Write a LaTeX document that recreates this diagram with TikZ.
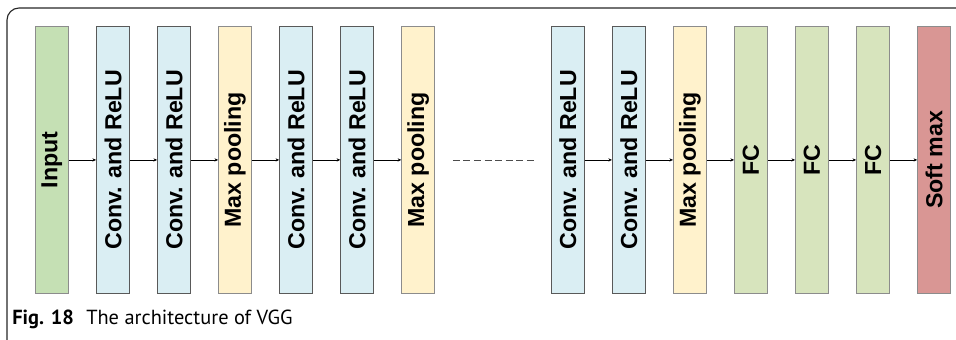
\documentclass[tikz,border=0pt]{standalone}
\usepackage{fontspec}
\setsansfont{Liberation Sans}
\newfontfamily\capfont{PT Sans}
\usepackage{xcolor}
\usepackage{graphicx}
\usepackage{tikz}
\usetikzlibrary{arrows.meta, positioning}
\definecolor{inputc}{HTML}{C5E0B4}
\definecolor{convc}{HTML}{DAEEF3}
\definecolor{poolc}{HTML}{FFF2CC}
\definecolor{fcc}{HTML}{D7E4BD}
\definecolor{softc}{HTML}{D99694}
\newcommand{\vlabel}[1]{\rotatebox{90}{#1}}

\begin{document}
\begin{tikzpicture}[
    node distance=0.68cm,
    block/.style={draw=black!45, line width=0.6pt, minimum width=0.825cm, minimum height=6.675cm,
                  inner sep=0pt, font=\sffamily\bfseries\fontsize{16.5}{18}\selectfont},
    conv/.style={block, fill=convc, draw=black!65},
    pool/.style={block, fill=poolc},
    fc/.style={block, fill=fcc},
    arrow/.style={-{Stealth[length=0.9mm, width=0.8mm]}, line width=0.4pt},
    frame/.style={line width=0.8pt, black!85, rounded corners=0.3cm},
]
    \useasboundingbox (0,0) rectangle (23.9,-8.475);
    \draw[frame] (0.175,-9) |- (25,-0.2);
    \node[block, fill=inputc, anchor=north west] (input) at (0.875,-0.65) {\vlabel{Input}};
    \node[conv, right=of input] (conv1) {\vlabel{Conv. and ReLU}};
    \node[conv, right=of conv1] (conv2) {\vlabel{Conv. and ReLU}};
    \node[pool, right=of conv2] (pool1) {\vlabel{Max pooling}};
    \node[conv, right=of pool1] (conv3) {\vlabel{Conv. and ReLU}};
    \node[conv, right=of conv3] (conv4) {\vlabel{Conv. and ReLU}};
    \node[pool, right=of conv4] (pool2) {\vlabel{Max pooling}};
    \node[conv, right=2.895cm of pool2] (conv5) {\vlabel{Conv. and ReLU}};
    \node[conv, right=of conv5] (conv6) {\vlabel{Conv. and ReLU}};
    \node[pool, right=of conv6] (pool3) {\vlabel{Max pooling}};
    \node[fc, right=of pool3] (fc1) {\vlabel{FC}};
    \node[fc, right=of fc1] (fc2) {\vlabel{FC}};
    \node[fc, right=of fc2] (fc3) {\vlabel{FC}};
    \node[block, fill=softc, right=of fc3] (soft) {\vlabel{Soft max}};
    \draw[arrow] (input) -- (conv1);
    \draw[arrow] (conv1) -- (conv2);
    \draw[arrow] (conv2) -- (pool1);
    \draw[arrow] (pool1) -- (conv3);
    \draw[arrow] (conv3) -- (conv4);
    \draw[arrow] (conv4) -- (pool2);
    \coordinate[right=0.445cm of pool2] (skipL);
    \coordinate[left=0.4cm of conv5] (skipR);
    \draw[dashed, dash pattern=on 5pt off 2.5pt, black!70, line width=0.5pt] (skipL) -- (skipR);
    \draw[arrow] (conv5) -- (conv6);
    \draw[arrow] (conv6) -- (pool3);
    \draw[arrow] (pool3) -- (fc1);
    \draw[arrow] (fc1) -- (fc2);
    \draw[arrow] (fc2) -- (fc3);
    \draw[arrow] (fc3) -- (soft);
    \node[anchor=base west, inner sep=0pt, font=\capfont\fontsize{14.5}{17}\selectfont] (caption)
         at (0.3,-8.1) {\textbf{Fig. 18}\hspace{0.6em}The architecture of VGG};
\end{tikzpicture}
\end{document}
